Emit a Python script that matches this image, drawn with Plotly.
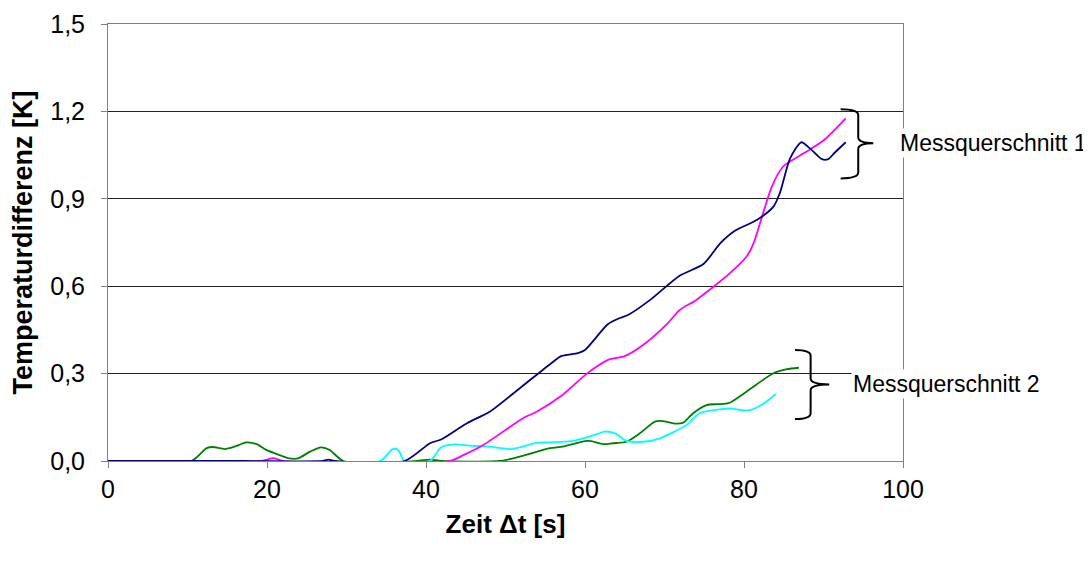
"""
Temperaturdifferenz über der Zeit, zwei Messquerschnitte
"""

import plotly.graph_objects as go

# Messquerschnitt 1
t_navy = [0, 17, 27.0, 27.7, 28.5, 37.3, 40.5, 41.9, 45.1, 48.0, 51.8, 56.0, 57.0, 59.1,
          60.0, 62.9, 64.4, 65.4, 68.2, 71.9, 74.9, 77.0, 78.9, 81.6, 83.7, 84.5,
          85.8, 87.2, 88.3, 89.8, 90.6, 91.4, 92.8]
dT_navy = [0, 0, 0, 0.005, 0, 0, 0.061, 0.074, 0.129, 0.169, 0.25, 0.341, 0.36, 0.37,
           0.381, 0.47, 0.491, 0.501, 0.553, 0.636, 0.676, 0.747, 0.791, 0.827, 0.873, 0.919,
           1.039, 1.094, 1.073, 1.036, 1.036, 1.058, 1.094]

t_magenta = [0, 19.3, 20.8, 22.0, 43.0, 44.7, 47.2, 52.2, 53.9, 57.0, 60.2, 62.9, 65.0,
             67.3, 70.3, 71.9, 74.0, 78.2, 80.3, 81.2, 82.4, 83.5, 84.9, 87.5, 90.0, 92.8]
dT_magenta = [0, 0, 0.01, 0, 0, 0.02, 0.055, 0.147, 0.169, 0.223, 0.299, 0.347, 0.36,
              0.398, 0.47, 0.518, 0.553, 0.644, 0.701, 0.747, 0.85, 0.942, 1.01, 1.056,
              1.1, 1.176]

# Messquerschnitt 2
t_green = [0, 10.5, 12.4, 13.2, 14.7, 15.9, 17.4, 18.7, 19.9, 21.6, 22.8, 23.9, 25.4,
           26.8, 27.9, 29.6, 38.8, 40.5, 42.0, 49.3, 51.8, 55.6, 57.2, 60.2, 60.8, 62.3,
           63.5, 65.2, 66.9, 68.8, 69.8, 71.1, 72.3, 73.6, 75.3, 76.6, 77.4, 78.2, 80.3,
           83.7, 85.4, 86.9]
dT_green = [0, 0, 0.044, 0.048, 0.041, 0.049, 0.064, 0.058, 0.038, 0.02, 0.009, 0.009,
            0.032, 0.047, 0.038, 0, 0, 0.005, 0, 0, 0.015, 0.044, 0.049, 0.069, 0.068,
            0.058, 0.061, 0.066, 0.095, 0.135, 0.137, 0.129, 0.131, 0.164, 0.192, 0.195,
            0.196, 0.2, 0.238, 0.301, 0.315, 0.32]

t_cyan = [0, 34.2, 35.8, 36.5, 37.3, 40.5, 41.9, 43.6, 45.5, 48.0, 50.7, 53.9, 55.6,
          58.5, 60.8, 62.5, 63.8, 65.2, 67.3, 69.4, 72.8, 74.4, 76.6, 78.6, 79.5, 80.7,
          82.4, 84.0]
dT_cyan = [0, 0, 0.041, 0.038, 0, 0, 0.047, 0.057, 0.053, 0.049, 0.041, 0.062, 0.064,
           0.069, 0.086, 0.101, 0.095, 0.069, 0.066, 0.078, 0.124, 0.164, 0.176, 0.18,
           0.175, 0.175, 0.196, 0.23]

x_ticks = [0, 20, 40, 60, 80, 100]
y_ticks = [0, 0.3, 0.6, 0.9, 1.2, 1.5]

FONT = 'Arial, Liberation Sans, sans-serif'


def brace(x_tip, x_mid, x_point, y_top, y_mid, y_bot, d):
    # geschweifte Klammer als SVG-Pfad in Datenkoordinaten
    return (f"M {x_tip},{y_top} Q {x_mid},{y_top} {x_mid},{y_top - d} "
            f"L {x_mid},{y_mid + d} Q {x_mid},{y_mid} {x_point},{y_mid} "
            f"Q {x_mid},{y_mid} {x_mid},{y_mid - d} "
            f"L {x_mid},{y_bot + d} Q {x_mid},{y_bot} {x_tip},{y_bot}")


fig = go.Figure()

for t, v, col in [(t_green, dT_green, '#008000'),
                  (t_cyan, dT_cyan, '#00FFFF'),
                  (t_magenta, dT_magenta, '#FF00FF'),
                  (t_navy, dT_navy, '#000080')]:
    fig.add_trace(go.Scatter(
        x=t, y=v, mode='lines',
        line=dict(color=col, width=1.8, shape='spline', smoothing=0.7),
        showlegend=False, hoverinfo='skip'
    ))

fig.add_shape(type='path', xref='x', yref='y',
              path=brace(92.16, 94.37, 96.26, 1.207, 1.091, 0.970, 0.02),
              line=dict(color='black', width=2))
fig.add_shape(type='path', xref='x', yref='y',
              path=brace(86.41, 88.38, 90.72, 0.381, 0.263, 0.144, 0.02),
              line=dict(color='black', width=2))

fig.add_annotation(text='Messquerschnitt 1', xref='paper', yref='y',
                   x=1.0, y=1.091, xanchor='left', yanchor='middle', xshift=-5,
                   showarrow=False, bgcolor='white',
                   font=dict(size=23, color='black', family=FONT))
fig.add_annotation(text='Messquerschnitt 2', xref='x', yref='y',
                   x=93.4, y=0.263, xanchor='left', yanchor='middle',
                   showarrow=False, bgcolor='white',
                   font=dict(size=23, color='black', family=FONT))

# die Seite setzt das Diagramm 8 px nach rechts unten, daher die Ränder
fig.update_layout(
    width=1091, height=561,
    plot_bgcolor='white', paper_bgcolor='white',
    margin=dict(l=100, r=196, t=16, b=108),
    font=dict(family=FONT, size=25, color='black'),
    separators=',.',
    showlegend=False
)

fig.update_xaxes(
    range=[0, 100], tickvals=x_ticks, ticks='outside', ticklen=6,
    tickcolor='#808080', showline=True, linecolor='#808080', mirror=True,
    showgrid=False, zeroline=False, automargin=False,
    title=dict(text='<b>Zeit \u0394t [s]</b>', font=dict(size=26), standoff=12)
)
fig.update_yaxes(
    range=[0, 1.5], tickvals=y_ticks, tickformat='.1f', ticks='outside', ticklen=6,
    tickcolor='#808080', showline=True, linecolor='#808080', mirror=True,
    showgrid=True, gridcolor='#222222', gridwidth=1, zeroline=False,
    ticklabelstandoff=11, automargin=False,
    title=dict(text='<b>Temperaturdifferenz [K]</b>', font=dict(size=27), standoff=10)
)

fig.write_html("out.html")
